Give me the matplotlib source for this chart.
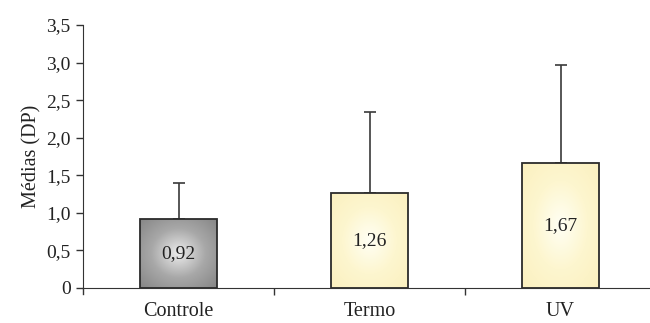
import numpy as np
import matplotlib
matplotlib.use('Agg')
import matplotlib.pyplot as plt
from matplotlib.colors import LinearSegmentedColormap

categorias = ['Controle', 'Termo', 'UV']
medias = [0.92, 1.26, 1.67]
dp = [0.48, 1.08, 1.30]
rotulos = ['0,92', '1,26', '1,67']
yticks = [0, 0.5, 1.0, 1.5, 2.0, 2.5, 3.0, 3.5]
ytick_labels = ['0', '0,5', '1,0', '1,5', '2,0', '2,5', '3,0', '3,5']

plt.rcParams['font.family'] = ['Liberation Serif', 'DejaVu Serif']

fig = plt.figure(figsize=(6.5, 3.23), dpi=100)
ax = fig.add_axes([83/650, 35/323, 573/650, 263/323])

x = np.arange(len(categorias))
largura = 0.4

cinza = LinearSegmentedColormap.from_list('cinza', ['#ececec', '#a8a8a8', '#858585'])
amarelo = LinearSegmentedColormap.from_list('amarelo', ['#fffff4', '#fdf6cf', '#fbf0bf'])
mapas = [cinza, amarelo, amarelo]

yy, xx = np.mgrid[-1:1:200j, -1:1:200j]
r = np.sqrt(xx**2 + yy**2) / np.sqrt(2)

barras = ax.bar(x, medias, largura, facecolor='none', edgecolor='#2b2b2b',
                linewidth=1.3, zorder=3)
for b, m, cmap in zip(barras, medias, mapas):
    x0 = b.get_x()
    im = ax.imshow(r, cmap=cmap, extent=[x0, x0 + largura, 0, m],
                   aspect='auto', zorder=2, vmin=0, vmax=1)
    im.set_clip_path(b)

ax.errorbar(x, medias, yerr=[[0, 0, 0], dp], fmt='none', ecolor='#3a3a3a',
            elinewidth=1.2, capsize=4, capthick=1.2, zorder=1)

for xi, m, t in zip(x, medias, rotulos):
    ax.text(xi, m / 2, t, ha='center', va='center', fontsize=14, color='#222222', zorder=4)

ax.set_xlim(-0.5, 2.5)
ax.set_ylim(0, 3.5)
ax.set_yticks(yticks, ytick_labels)
ax.set_xticks([0.5, 1.5])
ax.set_xticklabels([])
ax.tick_params(axis='x', length=5, color='#333333', width=1)
ax.tick_params(axis='y', length=5, color='#333333', width=1, pad=4,
               labelsize=14, labelcolor='#222222')
for i, c in enumerate(categorias):
    ax.text(i, -0.19, c, ha='center', va='top', fontsize=14.5, color='#222222',
            transform=ax.transData)
ax.set_ylabel('Médias (DP)', fontsize=14.5, labelpad=3, color='#222222')
ax.spines['top'].set_visible(False)
ax.spines['right'].set_visible(False)
ax.spines['left'].set_color('#333333')
ax.spines['bottom'].set_color('#333333')
ax.spines['left'].set_bounds(0, 3.5)
# tick na origem (esquerda) como no original
ax.plot([-0.5, -0.5], [0, -0.08], color='#333333', lw=1, clip_on=False)

fig.savefig('out.png', dpi=100)
